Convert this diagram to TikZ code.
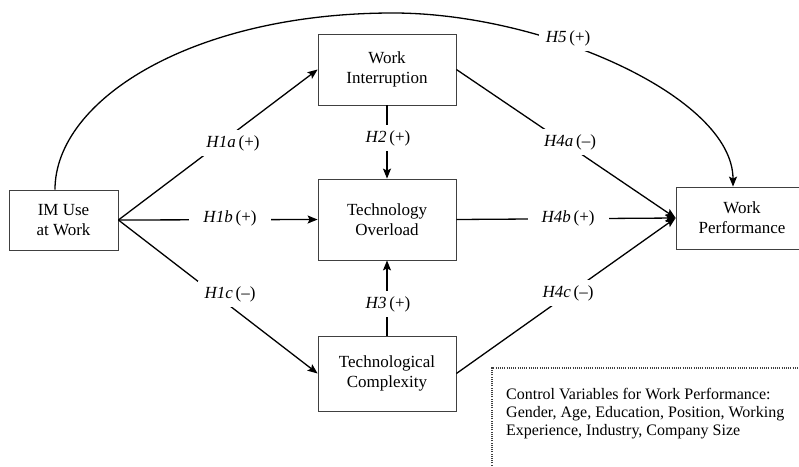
\documentclass[tikz,border=0pt]{standalone}
\usepackage{fontspec}
\setmainfont{Liberation Serif}
\newfontfamily\boxserif{Liberation Serif}
\usetikzlibrary{arrows.meta,calc}
\begin{document}
\begin{tikzpicture}[x=1pt,y=-1pt,
  box/.style={draw=black!75, line width=0.8pt, align=center, inner sep=0pt,
    font=\boxserif\fontsize{17}{20}\selectfont},
  conn/.style={line width=1.3pt, -{Stealth[length=10pt,width=8pt,inset=2pt]}},
  lab/.style={fill=white, inner xsep=7pt, inner ysep=5pt, font=\boxserif\fontsize{17}{20}\selectfont},
  labh/.style={lab, inner xsep=14pt},
  ctrlbox/.style={black!75, line width=1.2pt, dash pattern=on 1pt off 1.2pt}]
\clip (0,0) rectangle (799,466);
% boxes
\node[box, minimum width=109, minimum height=60] (im) at (63.5,220) {IM Use\\at Work};
\node[box, minimum width=138, minimum height=71] (wi) at (387,69.5) {Work\\Interruption};
\node[box, minimum width=138, minimum height=81] (to) at (387,219.5) {Technology\\Overload};
\node[box, minimum width=138, minimum height=75] (tc) at (387,373.5) {Technological\\Complexity};
\node[box, minimum width=132, minimum height=62] (wp) at (742,218) {Work\\Performance};
% control variables
\draw[ctrlbox] (492,470) -- (492,368) -- (805,368);
\node[anchor=north west, align=left, inner sep=0pt, font=\boxserif\fontsize{16}{18}\selectfont] (ctrl) at (506,388)
  {Control Variables for Work Performance:\\Gender, Age, Education, Position, Working\\Experience, Industry, Company Size};
% connectors
\draw[conn] (im.east) -- (wi.west);
\draw[conn] (im.east) -- (to.west);
\draw[conn] (im.east) -- (tc.west);
\draw[conn] (wi.south) -- (to.north);
\draw[conn] (tc.north) -- (to.south);
\draw[conn] (wi.east) -- (wp.west);
\draw[conn] (to.east) -- (wp.west);
\draw[conn] (tc.east) -- (wp.west);
\draw[conn] ([xshift=-8.5pt]im.north) .. controls +(0,-90) and (193,13) .. (393,13)
  .. controls (543,13) and ([xshift=-9pt,yshift=90pt]wp.north) .. ([xshift=-9pt]wp.north);
% labels
\node[lab] (l1a) at (233,143) {\textit{H1a}\,(+)};
\node[labh] (l1b) at (230,218) {\textit{H1b}\,(+)};
\node[lab] (l1c) at (230,294) {\textit{H1c}\,(–)};
\node[lab] (l2) at (388,138) {\textit{H2}\,(+)};
\node[lab] (l3) at (388,304) {\textit{H3}\,(+)};
\node[lab] (l4a) at (570,142) {\textit{H4a}\,(–)};
\node[labh] (l4b) at (568,218) {\textit{H4b}\,(+)};
\node[lab] (l4c) at (568,293) {\textit{H4c}\,(–)};
\node[lab] (l5) at (568,38) {\textit{H5}\,(+)};
\end{tikzpicture}
\end{document}
